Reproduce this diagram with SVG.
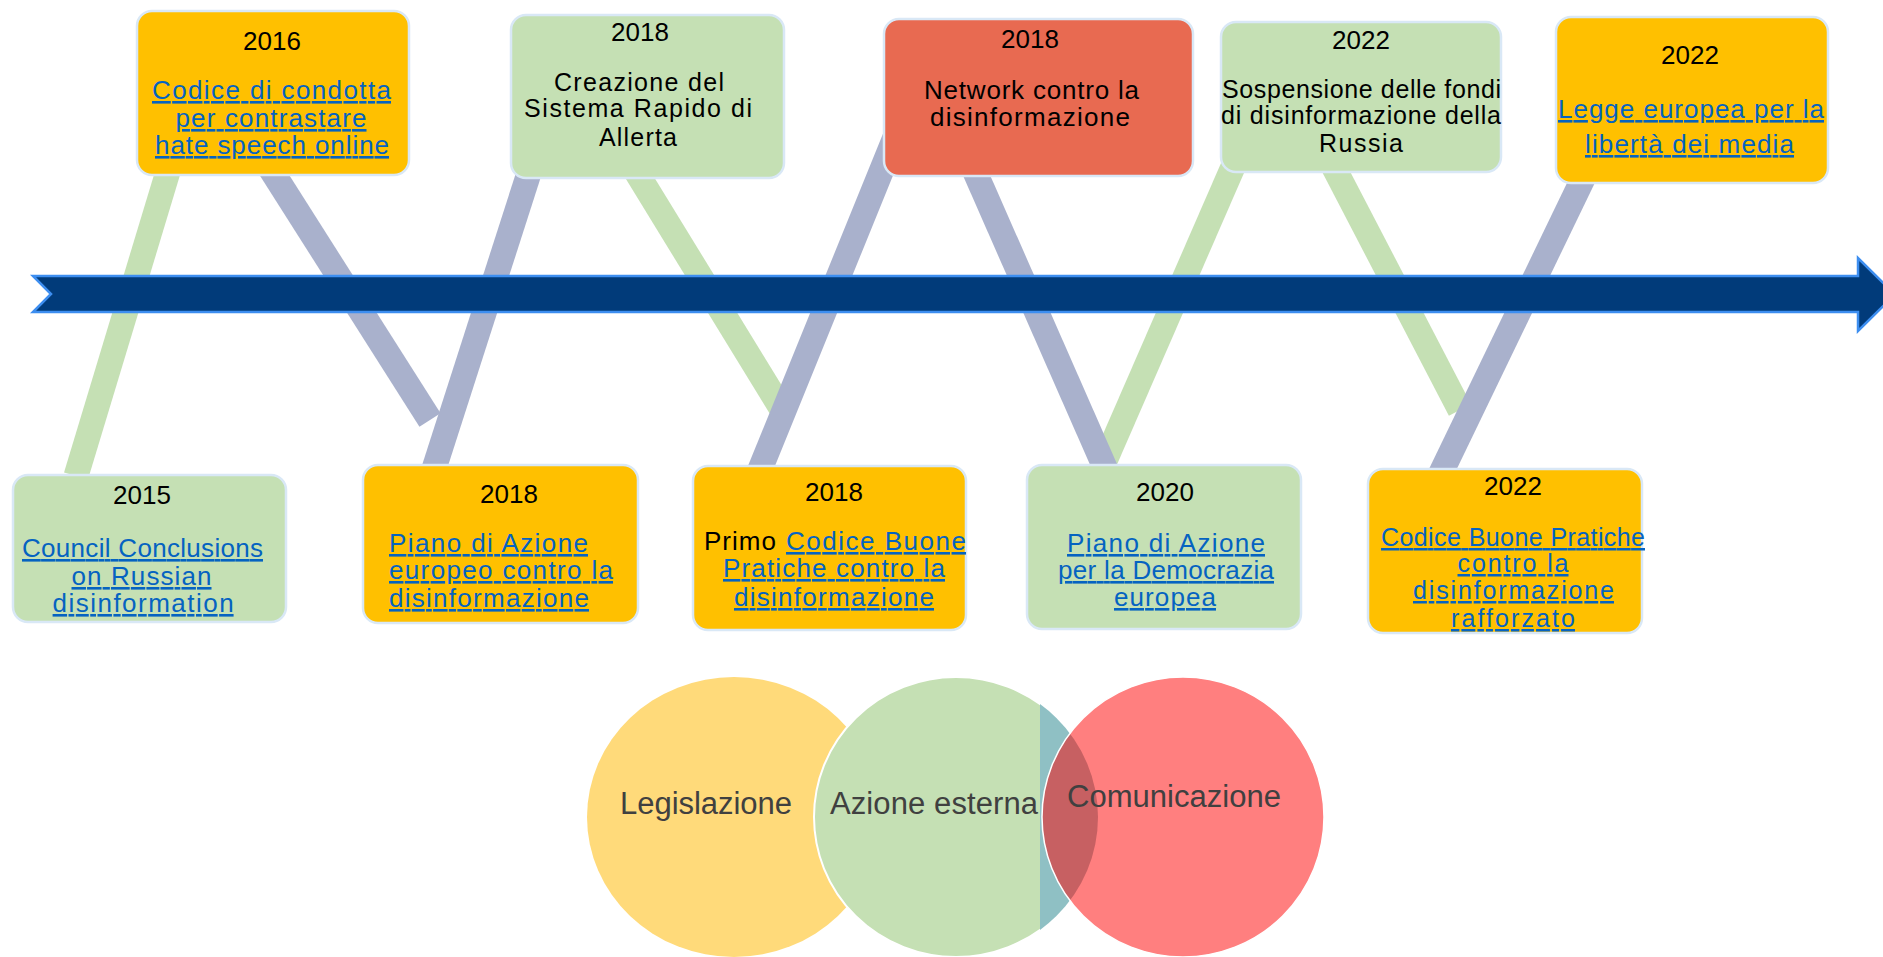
<svg xmlns="http://www.w3.org/2000/svg" width="1883" height="957" viewBox="0 0 1883 957">
<style>
text{font-family:"Liberation Sans",Arial,sans-serif;font-size:26px;fill:#000}
.yr{font-size:26px;text-anchor:middle}
.sm{font-size:25px}
.lk{fill:#0563C1;text-decoration:underline}
.box{stroke:#D9E8F6;stroke-width:2.5}
.or{fill:#FFC000}
.gr{fill:#C5E0B4}
.rd{fill:#E86A51}
.bandG{stroke:#C5E0B4;stroke-width:25;fill:none}
.bandB{stroke:#A9B1CC;stroke-width:25;fill:none}
.cl{font-size:31px;fill:#404040}
</style>
<defs>
<clipPath id="leftC"><rect x="0" y="600" width="1040" height="357"/></clipPath>
<clipPath id="rightC"><rect x="1040" y="600" width="843" height="357"/></clipPath>
</defs>
<rect width="1883" height="957" fill="#fff"/>
<g id="connectors">
<line class="bandG" x1="76" y1="476" x2="170" y2="165"/>
<line class="bandG" x1="632" y1="165" x2="784" y2="413"/>
<line class="bandG" x1="1101" y1="470" x2="1236" y2="160"/>
<line class="bandG" x1="1330" y1="160" x2="1460" y2="410"/>
<line class="bandB" x1="268" y1="165" x2="430" y2="420"/>
<line class="bandB" x1="432" y1="475" x2="530" y2="170"/>
<line class="bandB" x1="759" y1="472" x2="898" y2="130"/>
<line class="bandB" x1="972" y1="165" x2="1106" y2="470"/>
<line class="bandB" x1="1440" y1="475" x2="1592" y2="160"/>
</g>
<g id="timeline">
<polygon points="33,276 1858,276 1858,258 1895,294.5 1858,331 1858,312 33,312 51,294" fill="#013B7A" stroke="#3D8EF0" stroke-width="2.5"/>
</g>
<g id="n2016">
<rect class="box or" x="137" y="11" width="272" height="164" rx="15"/>
<text class="yr" x="272" y="50">2016</text>
<text class="lk" x="152" y="99" textLength="239" lengthAdjust="spacing">Codice di condotta</text>
<text class="lk" x="175.5" y="127" textLength="191" lengthAdjust="spacing">per contrastare</text>
<text class="lk" x="155" y="154" textLength="234" lengthAdjust="spacing">hate speech online</text>
</g>
<g id="n2018a">
<rect class="box gr" x="511" y="15" width="273" height="163" rx="15"/>
<text class="yr" x="640" y="41">2018</text>
<text class="sm" x="554" y="91" textLength="170" lengthAdjust="spacing">Creazione del</text>
<text class="sm" x="524" y="117" textLength="228" lengthAdjust="spacing">Sistema Rapido di</text>
<text class="sm" x="599" y="146" textLength="78" lengthAdjust="spacing">Allerta</text>
</g>
<g id="n2018b">
<rect class="box rd" x="884" y="19" width="309" height="157" rx="15"/>
<text class="yr" x="1030" y="48">2018</text>
<text x="924" y="99" textLength="215" lengthAdjust="spacing">Network contro la</text>
<text x="930" y="126" textLength="200" lengthAdjust="spacing">disinformazione</text>
</g>
<g id="n2022a">
<rect class="box gr" x="1221" y="22" width="280" height="150" rx="15"/>
<text class="yr" x="1361" y="49">2022</text>
<text class="sm" x="1222" y="98" textLength="279" lengthAdjust="spacing">Sospensione delle fondi</text>
<text class="sm" x="1221" y="124" textLength="280" lengthAdjust="spacing">di disinformazione della</text>
<text class="sm" x="1319" y="152" textLength="84" lengthAdjust="spacing">Russia</text>
</g>
<g id="n2022b">
<rect class="box or" x="1556" y="17" width="272" height="166" rx="15"/>
<text class="yr" x="1690" y="64">2022</text>
<text class="lk" x="1558" y="118" textLength="266" lengthAdjust="spacing">Legge europea per la</text>
<text class="lk" x="1585" y="153" textLength="209" lengthAdjust="spacing">libertà dei media</text>
</g>
<g id="n2015">
<rect class="box gr" x="13" y="475" width="273" height="147" rx="15"/>
<text class="yr" x="142" y="504">2015</text>
<text class="lk" x="22" y="557" textLength="241" lengthAdjust="spacing">Council Conclusions</text>
<text class="lk" x="71.5" y="585" textLength="140" lengthAdjust="spacing">on Russian</text>
<text class="lk" x="52.6" y="612" textLength="181" lengthAdjust="spacing">disinformation</text>
</g>
<g id="n2018c">
<rect class="box or" x="363" y="465" width="275" height="158" rx="15"/>
<text class="yr" x="509" y="503">2018</text>
<text class="lk" x="389" y="552" textLength="199" lengthAdjust="spacing">Piano di Azione</text>
<text class="lk" x="389" y="579" textLength="224" lengthAdjust="spacing">europeo contro la</text>
<text class="lk" x="389" y="607" textLength="200" lengthAdjust="spacing">disinformazione</text>
</g>
<g id="n2018d">
<rect class="box or" x="693" y="466" width="273" height="164" rx="15"/>
<text class="yr" x="834" y="501">2018</text>
<text x="704" y="550" textLength="72" lengthAdjust="spacing">Primo</text>
<text class="lk" x="786" y="550" textLength="180" lengthAdjust="spacing">Codice Buone</text>
<text class="lk" x="723" y="577" textLength="222" lengthAdjust="spacing">Pratiche contro la</text>
<text class="lk" x="734" y="606" textLength="200" lengthAdjust="spacing">disinformazione</text>
</g>
<g id="n2020">
<rect class="box gr" x="1027" y="465" width="274" height="164" rx="15"/>
<text class="yr" x="1165" y="501">2020</text>
<text class="lk" x="1067" y="552" textLength="198" lengthAdjust="spacing">Piano di Azione</text>
<text class="lk" x="1058" y="579" textLength="216" lengthAdjust="spacing">per la Democrazia</text>
<text class="lk" x="1114" y="606" textLength="102" lengthAdjust="spacing">europea</text>
</g>
<g id="n2022c">
<rect class="box or" x="1368" y="469" width="274" height="164" rx="15"/>
<text class="yr" x="1513" y="495">2022</text>
<text class="lk sm" x="1381" y="546" textLength="264" lengthAdjust="spacing">Codice Buone Pratiche</text>
<text class="lk sm" x="1457.5" y="572" textLength="111" lengthAdjust="spacing">contro la</text>
<text class="lk sm" x="1413" y="599" textLength="201" lengthAdjust="spacing">disinformazione</text>
<text class="lk sm" x="1451" y="627" textLength="124" lengthAdjust="spacing">rafforzato</text>
</g>
<g id="legislazione">
<ellipse cx="734" cy="817" rx="147" ry="140" fill="#FFDA7A"/>
<text class="cl" x="620" y="814" textLength="172" lengthAdjust="spacing">Legislazione</text>
</g>
<g id="azione-esterna">
<ellipse cx="956" cy="817" rx="142" ry="140" fill="#C5E0B4" clip-path="url(#leftC)"/>
<ellipse cx="956" cy="817" rx="142" ry="140" fill="#8FC0C4" clip-path="url(#rightC)"/>
<ellipse cx="956" cy="817" rx="142" ry="140" fill="none" stroke="#fff" stroke-width="2" clip-path="url(#leftC)"/>
<text class="cl" x="830" y="814" textLength="208" lengthAdjust="spacing">Azione esterna</text>
</g>
<g id="comunicazione">
<ellipse cx="1183" cy="817" rx="141" ry="140" fill="#FF0000" fill-opacity="0.5" stroke="#fff" stroke-width="1.5"/>
<text class="cl" x="1067" y="807" textLength="214" lengthAdjust="spacing">Comunicazione</text>
</g>
</svg>
